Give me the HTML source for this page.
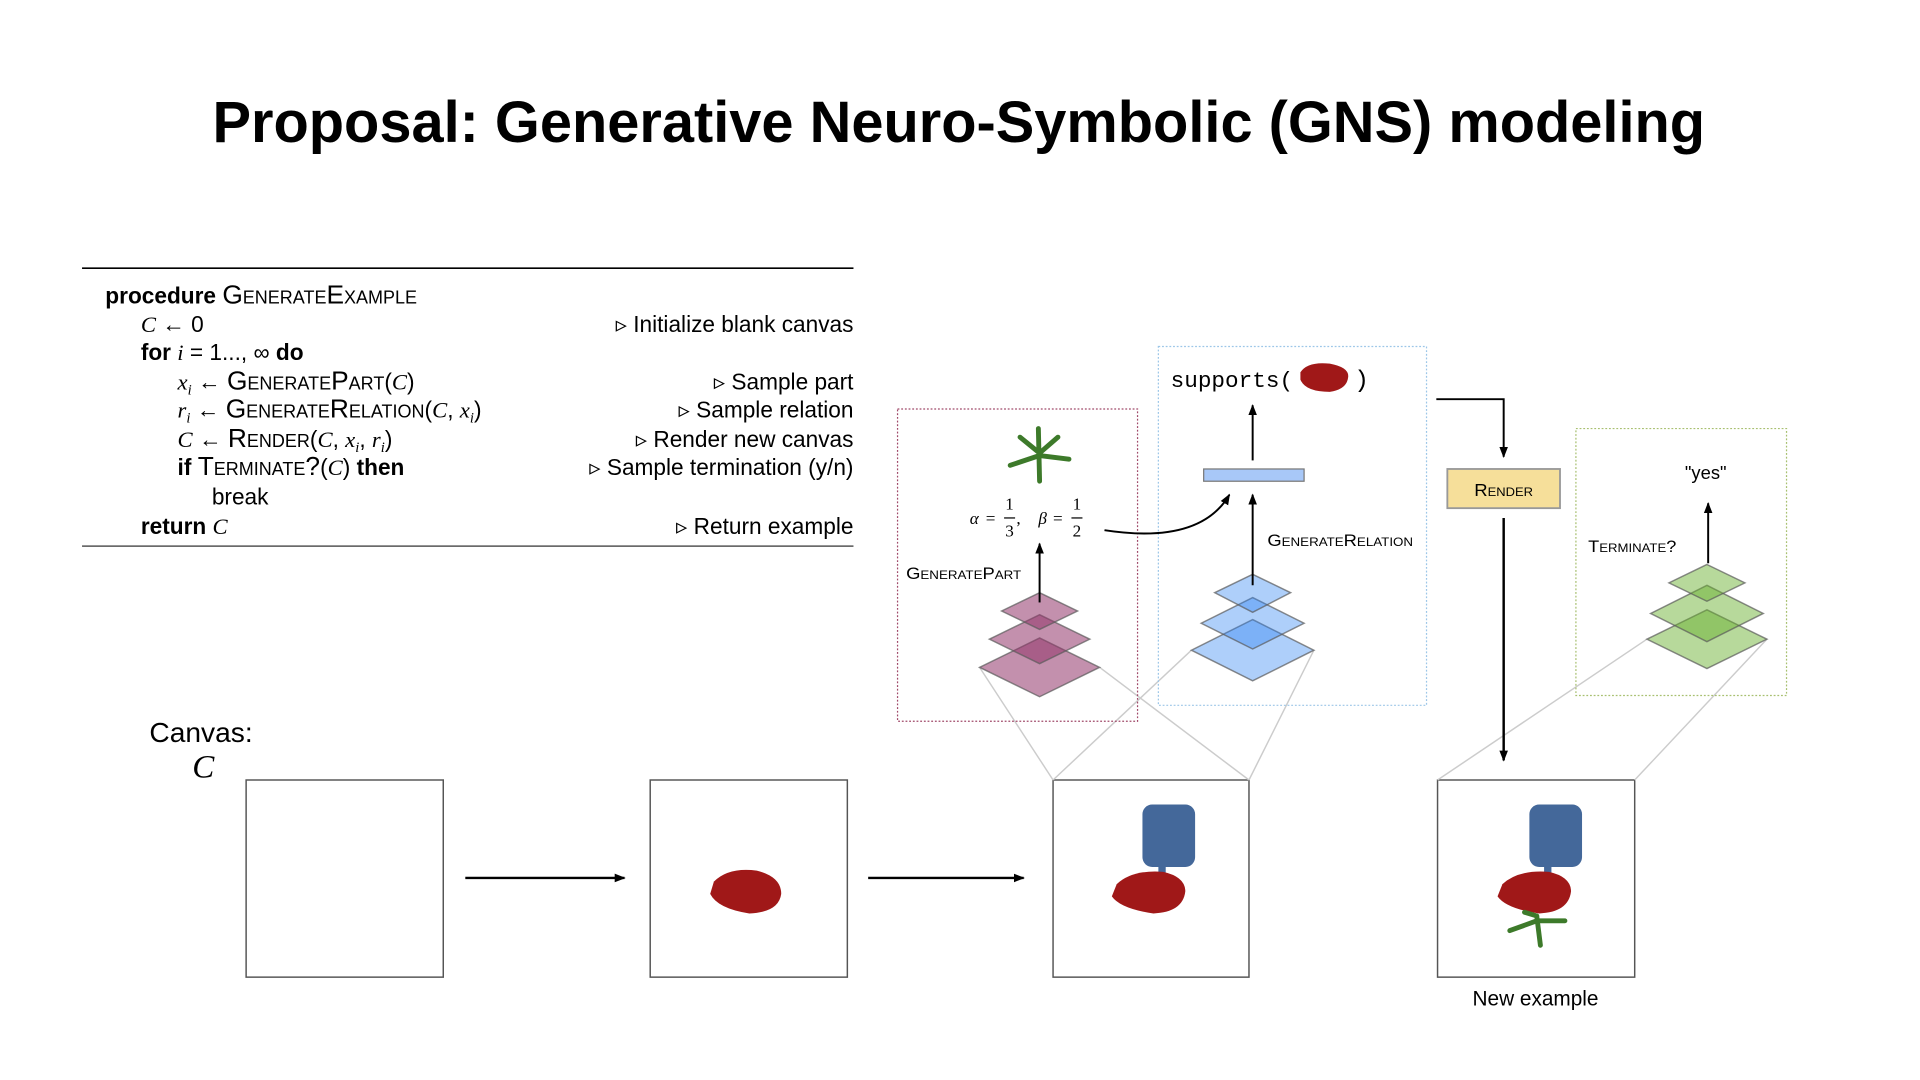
<!DOCTYPE html>
<html><head><meta charset="utf-8"><style>
html,body{margin:0;padding:0;background:#fff;width:1920px;height:1080px;overflow:hidden}
svg{display:block}
text{font-family:"Liberation Sans",sans-serif;fill:#000}
.m{font-family:"Liberation Serif",serif;font-style:italic}
.sc{font-variant:small-caps}
.mono{font-family:"Liberation Mono",monospace}
.serif{font-family:"Liberation Serif",serif}
</style></head><body>
<svg width="1920" height="1080" viewBox="0 0 1568 882" xmlns="http://www.w3.org/2000/svg">
<defs>
<marker id="ah" markerWidth="10" markerHeight="10" refX="8" refY="5" orient="auto" markerUnits="userSpaceOnUse"><path d="M0,1.5 L9,5 L0,8.5 z" fill="#000"/></marker>
</defs>
<text x="783" y="116" text-anchor="middle" font-size="48" font-weight="bold" textLength="1219" lengthAdjust="spacingAndGlyphs">Proposal: Generative Neuro-Symbolic (GNS) modeling</text>

<!-- algorithm -->
<line x1="67" y1="219" x2="697" y2="219" stroke="#000" stroke-width="1.3"/>
<line x1="67" y1="446" x2="697" y2="446" stroke="#555" stroke-width="1.3"/>
<g font-size="18.5">
<text x="86" y="248"><tspan font-weight="bold">procedure</tspan> <tspan class="sc" font-size="21.5">GenerateExample</tspan></text>
<text x="115" y="271"><tspan class="m">C</tspan> ← 0</text>
<text x="115" y="294"><tspan font-weight="bold">for</tspan> <tspan class="m">i</tspan> = 1..., ∞ <tspan font-weight="bold">do</tspan></text>
<text x="145" y="318"><tspan class="m">x<tspan font-size="12" dy="4">i</tspan></tspan><tspan dy="-4"> ← </tspan><tspan class="sc" font-size="21.5">GeneratePart</tspan>(<tspan class="m">C</tspan>)</text>
<text x="145" y="341"><tspan class="m">r<tspan font-size="12" dy="4">i</tspan></tspan><tspan dy="-4"> ← </tspan><tspan class="sc" font-size="21.5">GenerateRelation</tspan>(<tspan class="m">C</tspan>, <tspan class="m">x<tspan font-size="12" dy="4">i</tspan></tspan><tspan dy="-4">)</tspan></text>
<text x="145" y="365"><tspan class="m">C</tspan> ← <tspan class="sc" font-size="21.5">Render</tspan>(<tspan class="m">C</tspan>, <tspan class="m">x<tspan font-size="12" dy="4">i</tspan></tspan><tspan dy="-4">, </tspan><tspan class="m">r<tspan font-size="12" dy="4">i</tspan></tspan><tspan dy="-4">)</tspan></text>
<text x="145" y="388"><tspan font-weight="bold">if</tspan> <tspan class="sc" font-size="21.5">Terminate?</tspan>(<tspan class="m">C</tspan>) <tspan font-weight="bold">then</tspan></text>
<text x="173" y="412">break</text>
<text x="115" y="436"><tspan font-weight="bold">return</tspan> <tspan class="m">C</tspan></text>
<g text-anchor="end">
<text x="697" y="271">▹ Initialize blank canvas</text>
<text x="697" y="318">▹ Sample part</text>
<text x="697" y="341">▹ Sample relation</text>
<text x="697" y="365">▹ Render new canvas</text>
<text x="697" y="388">▹ Sample termination (y/n)</text>
<text x="697" y="436">▹ Return example</text>
</g>
</g>

<!-- canvas label -->
<text x="122" y="606" font-size="23">Canvas:</text>
<text x="157" y="635" font-size="27" class="m">C</text>

<!-- canvases -->
<g fill="#fff" stroke="#555" stroke-width="1.2">
<rect x="201" y="637" width="161" height="161"/>
<rect x="531" y="637" width="161" height="161"/>
<rect x="860" y="637" width="160" height="161"/>
<rect x="1174" y="637" width="161" height="161"/>
</g>
<line x1="380" y1="717" x2="510" y2="717" stroke="#000" stroke-width="2" marker-end="url(#ah)"/>
<line x1="709" y1="717" x2="836" y2="717" stroke="#000" stroke-width="2" marker-end="url(#ah)"/>
<text x="1254" y="821" text-anchor="middle" font-size="17">New example</text>

<!-- gray projection lines -->
<g stroke="#ccc" stroke-width="1.2">
<line x1="800" y1="545" x2="860" y2="637"/><line x1="898" y1="545" x2="1020" y2="637"/>
<line x1="973" y1="531" x2="860" y2="637"/><line x1="1073" y1="531" x2="1020" y2="637"/>
<line x1="1345" y1="522" x2="1174" y2="637"/><line x1="1443" y1="522" x2="1335" y2="637"/>
</g>

<!-- dotted boxes -->
<rect x="733" y="334" width="196" height="255" fill="none" stroke="#a04a6a" stroke-width="1" stroke-dasharray="1.5,1.5"/>
<rect x="946" y="283" width="219" height="293" fill="none" stroke="#9cc6e8" stroke-width="1" stroke-dasharray="1.5,1.5"/>
<rect x="1287" y="350" width="172" height="218" fill="none" stroke="#a8c070" stroke-width="1" stroke-dasharray="1.5,1.5"/>

<!-- diamonds -->
<g stroke="rgba(90,90,90,0.7)" stroke-width="1.2">
<g fill="rgb(146,53,105)" fill-opacity="0.55">
<path d="M849,521 L898,545 L849,569 L800,545z"/>
<path d="M849,502 L890,522 L849,542 L808,522z"/>
<path d="M849,484 L880,499 L849,514 L818,499z"/>
</g>
<g fill="rgb(42,130,242)" fill-opacity="0.38">
<path d="M1023,506 L1073,531 L1023,556 L973,531z"/>
<path d="M1023,488 L1065,509 L1023,530 L981,509z"/>
<path d="M1023,469 L1054,484 L1023,500 L992,484z"/>
</g>
<g fill="rgb(105,175,45)" fill-opacity="0.48">
<path d="M1394,498 L1443,522 L1394,546 L1345,522z"/>
<path d="M1394,478 L1440,501 L1394,524 L1348,501z"/>
<path d="M1394,461 L1425,476 L1394,491 L1363,476z"/>
</g>
</g>

<!-- red box content -->
<line x1="849" y1="492" x2="849" y2="444" stroke="#000" stroke-width="1.6" marker-end="url(#ah)"/>
<text x="740" y="473" font-size="13.5" class="sc" textLength="94" lengthAdjust="spacingAndGlyphs">GeneratePart</text>
<g font-size="14">
<text x="792" y="428" class="m">α</text><text x="805" y="428" class="serif">=</text>
<text x="821" y="416" class="serif">1</text><line x1="820" y1="423" x2="829" y2="423" stroke="#000"/><text x="821" y="438" class="serif">3</text>
<text x="830" y="428" class="serif">,</text>
<text x="848" y="428" class="m">β</text><text x="860" y="428" class="serif">=</text>
<text x="876" y="416" class="serif">1</text><line x1="875" y1="423" x2="884" y2="423" stroke="#000"/><text x="876" y="438" class="serif">2</text>
</g>
<g stroke="#3d7a2a" stroke-width="4" stroke-linecap="round">
<line x1="848" y1="350" x2="849" y2="393"/>
<line x1="849" y1="372" x2="825" y2="380"/><line x1="849" y1="372" x2="873" y2="375"/>
<line x1="849" y1="370" x2="833" y2="357"/><line x1="849" y1="370" x2="864" y2="357"/>
</g>
<path d="M902,433 Q980,445 1004,404" fill="none" stroke="#000" stroke-width="1.6" marker-end="url(#ah)"/>

<!-- blue box content -->
<line x1="1023" y1="478" x2="1023" y2="404" stroke="#000" stroke-width="1.6" marker-end="url(#ah)"/>
<rect x="983" y="383" width="82" height="10" fill="#a8c8f8" stroke="#777" stroke-width="1"/>
<line x1="1023" y1="376" x2="1023" y2="331" stroke="#000" stroke-width="1.6" marker-end="url(#ah)"/>
<text x="1035" y="446" font-size="13.5" class="sc" textLength="119" lengthAdjust="spacingAndGlyphs">GenerateRelation</text>
<text x="956" y="316" font-size="18" class="mono" textLength="100" lengthAdjust="spacingAndGlyphs">supports(</text>
<path d="M1062,304 Q1068,295 1086,297 Q1102,300 1101,308 Q1100,318 1086,320 Q1066,320 1062,310z" fill="#a01818"/>
<text x="1106" y="316" font-size="20" class="mono">)</text>

<!-- render -->
<path d="M1173,326 L1228,326 L1228,373" fill="none" stroke="#000" stroke-width="1.6" marker-end="url(#ah)"/>
<rect x="1182" y="383" width="92" height="32" fill="#f6df9a" stroke="#999" stroke-width="1.5"/>
<text x="1228" y="405" text-anchor="middle" font-size="14" class="sc" textLength="48" lengthAdjust="spacingAndGlyphs">Render</text>
<line x1="1228" y1="423" x2="1228" y2="621" stroke="#000" stroke-width="2" marker-end="url(#ah)"/>

<!-- green content -->
<line x1="1395" y1="460" x2="1395" y2="411" stroke="#000" stroke-width="1.6" marker-end="url(#ah)"/>
<text x="1393" y="391" text-anchor="middle" font-size="15">"yes"</text>
<text x="1297" y="451" font-size="13.5" class="sc" textLength="72" lengthAdjust="spacingAndGlyphs">Terminate?</text>

<!-- chair drawings -->
<path d="M583,720 Q595,708 618,711 Q638,716 638,730 Q636,745 612,746 Q586,742 580,730z" fill="#a01818"/>
<g>
<rect x="933" y="657" width="43" height="51" rx="8" fill="#44689a"/>
<rect x="946" y="705" width="6" height="10" fill="#44689a"/>
<path d="M912,722 Q925,710 950,712 Q968,716 968,728 Q966,745 942,746 Q915,742 908,732z" fill="#a01818"/>
</g>
<g>
<rect x="1249" y="657" width="43" height="51" rx="8" fill="#44689a"/>
<rect x="1261" y="705" width="6" height="10" fill="#44689a"/>
<path d="M1227,722 Q1240,710 1265,712 Q1283,716 1283,728 Q1281,745 1257,746 Q1230,742 1223,732z" fill="#a01818"/>
<g stroke="#3d7a2a" stroke-width="4" stroke-linecap="round">
<line x1="1255" y1="748" x2="1258" y2="772"/><line x1="1255" y1="752" x2="1233" y2="760"/><line x1="1255" y1="752" x2="1278" y2="752"/><line x1="1255" y1="748" x2="1245" y2="745"/>
</g>
</g>
</svg>
</body></html>
